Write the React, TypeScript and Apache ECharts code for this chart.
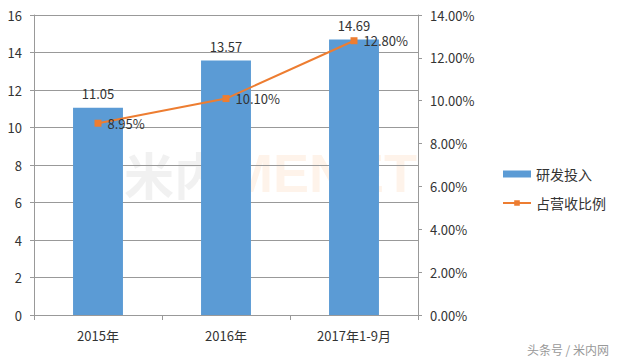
import React, { useEffect, useRef } from "react";
import * as echarts from "echarts";

const categories = ["2015年", "2016年", "2017年1-9月"];
const rdInvest = [11.05, 13.57, 14.69];
const revenueRatio = [8.95, 10.1, 12.8];
const seriesNames = ["研发投入", "占营收比例"];

export default function App() {
  const ref = useRef<HTMLDivElement>(null);
  useEffect(() => {
    const chart = echarts.init(ref.current!, null, { renderer: "svg" });
    const font = "'Microsoft YaHei', 'Noto Sans CJK SC', 'Noto Sans', sans-serif";
    chart.setOption({
      animation: false,
      backgroundColor: "#fff",
      textStyle: { fontFamily: font },
      grid: { left: 34, right: 199, top: 15, bottom: 46 },
      legend: {
        orient: "vertical",
        left: 497,
        top: 162,
        itemGap: 15,
        itemWidth: 28,
        itemHeight: 7,
        textStyle: { fontSize: 14, color: "#333", fontFamily: font },
        data: [
          { name: seriesNames[0], icon: "rect" },
          { name: seriesNames[1] },
        ],
      },
      graphic: [
        {
          type: "text",
          left: 124,
          top: 148,
          z: 0,
          style: {
            text: "米内",
            fontSize: 50,
            fontWeight: "bold",
            fill: "rgba(150,150,150,0.13)",
            fontFamily: font,
          },
        },
        {
          type: "text",
          left: 228,
          top: 146,
          z: 0,
          style: {
            text: "MENET",
            fontSize: 54,
            fontWeight: "bold",
            fill: "rgba(245,150,60,0.11)",
            fontFamily: "Arial, 'Liberation Sans', sans-serif",
          },
        },
        {
          type: "text",
          right: 8,
          bottom: 6,
          style: {
            text: "头条号 / 米内网",
            fontSize: 12,
            fill: "#999",
            fontFamily: font,
          },
        },
      ],
      xAxis: {
        type: "category",
        data: categories,
        axisLine: { lineStyle: { color: "#999" } },
        axisTick: { show: true, alignWithLabel: false, length: 5, lineStyle: { color: "#999" } },
        axisLabel: { color: "#333", fontSize: 13, margin: 14 },
      },
      yAxis: [
        {
          type: "value",
          min: 0,
          max: 16,
          interval: 2,
          axisLine: { show: true, lineStyle: { color: "#999" } },
          axisTick: { show: true, length: 4, lineStyle: { color: "#999" } },
          axisLabel: { color: "#333", fontSize: 13, margin: 12 },
          splitLine: { lineStyle: { color: "#999", width: 1 } },
        },
        {
          type: "value",
          min: 0,
          max: 14,
          interval: 2,
          position: "right",
          axisLine: { show: true, lineStyle: { color: "#999" } },
          axisTick: { show: true, length: 4, lineStyle: { color: "#999" } },
          axisLabel: {
            color: "#333",
            fontSize: 13,
            margin: 12,
            formatter: (v: number) => v.toFixed(2) + "%",
          },
          splitLine: { show: false },
        },
      ],
      series: [
        {
          name: seriesNames[0],
          type: "bar",
          data: rdInvest,
          barWidth: "39%",
          itemStyle: { color: "#5B9BD5" },
          z: 2,
          label: {
            show: true,
            position: "top",
            distance: 8,
            color: "#333",
            fontSize: 13,
            formatter: (p: any) => p.value.toFixed(2),
          },
        },
        {
          name: seriesNames[1],
          type: "line",
          yAxisIndex: 1,
          data: revenueRatio,
          symbol: "rect",
          symbolSize: 7,
          z: 3,
          lineStyle: { color: "#ED7D31", width: 2 },
          itemStyle: { color: "#ED7D31" },
          label: {
            show: true,
            position: "right",
            distance: 6,
            color: "#333",
            fontSize: 13,
            formatter: (p: any) => p.value.toFixed(2) + "%",
          },
        },
      ],
    });
    return () => chart.dispose();
  }, []);
  return <div ref={ref} style={{ width: 617, height: 361, marginLeft: -8, marginTop: -8 }} />;
}
